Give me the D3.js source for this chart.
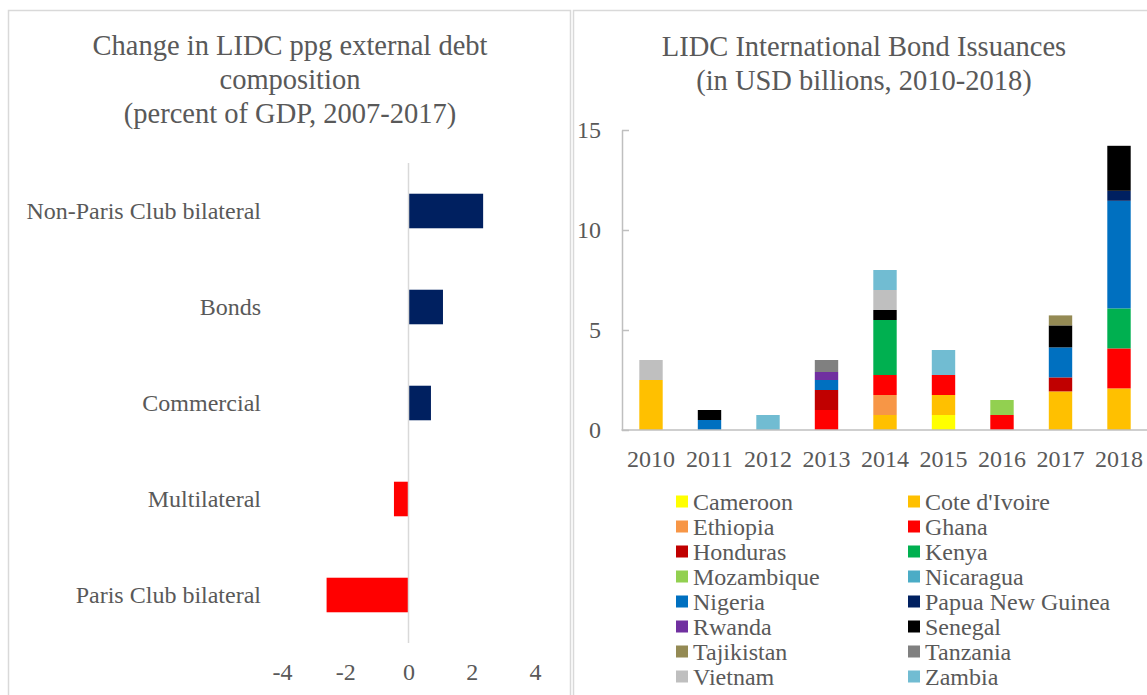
<!DOCTYPE html>
<html>
<head>
<meta charset="utf-8">
<script src="https://cdn.jsdelivr.net/npm/d3@7"></script>
<style>
	body { margin: 0; background: #fff; }
	svg { display: block; }
	text { font-family: "Liberation Serif", "Times New Roman", serif; fill: #595959; }
</style>
</head>
<body>
<div id="chart"></div>
<script>
// left panel: change in debt composition (percent of GDP)
var debtCategories = ["Non-Paris Club bilateral", "Bonds", "Commercial", "Multilateral", "Paris Club bilateral"];
var debtChange = [2.36, 1.09, 0.71, -0.46, -2.59];
var debtTicks = [-4, -2, 0, 2, 4];

// right panel: bond issuances (USD billions)
var years = ["2010", "2011", "2012", "2013", "2014", "2015", "2016", "2017", "2018"];
var countries = ["Cameroon", "Cote d'Ivoire", "Ethiopia", "Ghana", "Honduras", "Kenya", "Mozambique", "Nicaragua",
	"Nigeria", "Papua New Guinea", "Rwanda", "Senegal", "Tajikistan", "Tanzania", "Vietnam", "Zambia"];
var countryColors = ["#FFFF00", "#FFC000", "#F79646", "#FF0000", "#C00000", "#00B050", "#92D050", "#4BACC6",
	"#0070C0", "#002060", "#7030A0", "#000000", "#948A54", "#808080", "#BFBFBF", "#71BCD2"];
// one row per country, one value per year
var issuance = [
	[0, 0, 0, 0, 0, 0.75, 0, 0, 0],          // Cameroon
	[2.5, 0, 0, 0, 0.75, 1.0, 0, 1.93, 2.08], // Cote d'Ivoire
	[0, 0, 0, 0, 1.0, 0, 0, 0, 0],           // Ethiopia
	[0, 0, 0, 1.0, 1.0, 1.0, 0.75, 0, 2.0],   // Ghana
	[0, 0, 0, 1.0, 0, 0, 0, 0.7, 0],          // Honduras
	[0, 0, 0, 0, 2.75, 0, 0, 0, 2.0],         // Kenya
	[0, 0, 0, 0, 0, 0, 0.75, 0, 0],           // Mozambique
	[0, 0, 0, 0, 0, 0, 0, 0, 0],              // Nicaragua
	[0, 0.5, 0, 0.5, 0, 0, 0, 1.5, 5.38],     // Nigeria
	[0, 0, 0, 0, 0, 0, 0, 0, 0.5],            // Papua New Guinea
	[0, 0, 0, 0.4, 0, 0, 0, 0, 0],            // Rwanda
	[0, 0.5, 0, 0, 0.5, 0, 0, 1.1, 2.25],     // Senegal
	[0, 0, 0, 0, 0, 0, 0, 0.5, 0],            // Tajikistan
	[0, 0, 0, 0.6, 0, 0, 0, 0, 0],            // Tanzania
	[1.0, 0, 0, 0, 1.0, 0, 0, 0, 0],          // Vietnam
	[0, 0, 0.75, 0, 1.0, 1.25, 0, 0, 0]       // Zambia
];
var issuanceTicks = [0, 5, 10, 15];

var W = 1147, H = 695;
var grid = "#D9D9D9";
var serif = '"Liberation Serif", "Times New Roman", serif';

var svg = d3.select("#chart").append("svg")
	.attr("width", W).attr("height", H);

// panel frames
svg.append("rect")
	.attr("x", 8.5).attr("y", 10.5).attr("width", 562).attr("height", 700)
	.attr("fill", "none").attr("stroke", grid).attr("stroke-width", 1.5);
svg.append("rect")
	.attr("x", 573.5).attr("y", 10.5).attr("width", 600).attr("height", 700)
	.attr("fill", "none").attr("stroke", grid).attr("stroke-width", 1.5);

function title(lines, cx, y0){
	var t = svg.append("text").attr("text-anchor", "middle").style("font-size", "28.5px");
	lines.forEach(function(l, i){
		t.append("tspan").attr("x", cx).attr("y", y0 + i * 34).text(l);
	});
}

/* ---------- left chart ---------- */
title(["Change in LIDC ppg external debt", "composition", "(percent of GDP, 2007-2017)"], 290, 55);

var xL = d3.scaleLinear().domain([-4, 4]).range([282, 535]);
var yL = d3.scaleBand().domain(debtCategories).range([163, 643]).paddingInner(0.64).paddingOuter(0.32);

svg.append("g").selectAll("rect")
	.data(debtCategories)
	.enter().append("rect")
	.attr("x", function(d, i){ return xL(Math.min(0, debtChange[i])); })
	.attr("y", function(d){ return yL(d); })
	.attr("width", function(d, i){ return Math.abs(xL(debtChange[i]) - xL(0)); })
	.attr("height", yL.bandwidth())
	.attr("fill", function(d, i){ return debtChange[i] >= 0 ? "#002060" : "#FF0000"; });

svg.append("line")
	.attr("x1", xL(0)).attr("x2", xL(0))
	.attr("y1", 163).attr("y2", 643)
	.attr("stroke", grid).attr("stroke-width", 1.5);

svg.append("g").selectAll("text")
	.data(debtCategories)
	.enter().append("text")
	.attr("x", 261)
	.attr("y", function(d){ return yL(d) + yL.bandwidth() / 2; })
	.attr("dy", "0.32em")
	.attr("text-anchor", "end")
	.style("font-size", "24px")
	.text(function(d){ return d; });

// plain hyphen for negatives, as in the original
var axL = svg.append("g")
	.attr("transform", "translate(0,643)")
	.call(d3.axisBottom(xL).tickValues(debtTicks).tickFormat(function(d){ return String(d); })
		.tickSize(0).tickPadding(20));
axL.select(".domain").remove();
axL.selectAll("text").style("font-size", "24px").attr("fill", "#595959").style("font-family", serif);

/* ---------- right chart ---------- */
title(["LIDC International Bond Issuances", "(in USD billions, 2010-2018)"], 864, 56);

var xR = d3.scaleBand().domain(years).range([621.75, 1148.25]).paddingInner(0.6).paddingOuter(0.3);
var yR = d3.scaleLinear().domain([0, 15]).range([430, 130]);

var rows = years.map(function(y, j){
	var r = { year: y };
	countries.forEach(function(c, k){ r[c] = issuance[k][j]; });
	return r;
});
var stacked = d3.stack().keys(countries)(rows);

svg.append("g").selectAll("g")
	.data(stacked)
	.enter().append("g")
	.attr("fill", function(d, k){ return countryColors[k]; })
	.selectAll("rect")
	.data(function(d){ return d.filter(function(s){ return s[1] - s[0] > 0; }); })
	.enter().append("rect")
	.attr("x", function(d){ return xR(d.data.year); })
	.attr("y", function(d){ return yR(d[1]); })
	.attr("width", xR.bandwidth())
	.attr("height", function(d){ return yR(d[0]) - yR(d[1]); });

var axY = svg.append("g")
	.attr("transform", "translate(622,0)")
	.call(d3.axisLeft(yR).tickValues(issuanceTicks).tickSizeInner(-7).tickSizeOuter(0).tickPadding(21));
axY.selectAll("path, line").attr("stroke", "#BFBFBF").attr("stroke-width", 1.5);
axY.selectAll("text").style("font-size", "24px").attr("fill", "#595959").style("font-family", serif);

var axX = svg.append("g")
	.attr("transform", "translate(0,430)")
	.call(d3.axisBottom(xR).tickSize(0).tickPadding(20));
axX.select(".domain").attr("stroke", "#BFBFBF").attr("stroke-width", 1.5)
	.attr("d", "M621.5,0H1147");
axX.selectAll("text").style("font-size", "24px").attr("fill", "#595959").style("font-family", serif);

// legend, two columns
var legend = svg.append("g").selectAll("g")
	.data(countries)
	.enter().append("g")
	.attr("transform", function(d, i){
		var col = i % 2, row = Math.floor(i / 2);
		return "translate(" + (676 + col * 232) + "," + (501.5 + row * 25) + ")";
	});
legend.append("rect")
	.attr("x", 0).attr("y", -6).attr("width", 12).attr("height", 12)
	.attr("fill", function(d, i){ return countryColors[i]; });
legend.append("text")
	.attr("x", 17).attr("dy", "0.34em")
	.style("font-size", "24px")
	.text(function(d){ return d; });
</script>
</body>
</html>
